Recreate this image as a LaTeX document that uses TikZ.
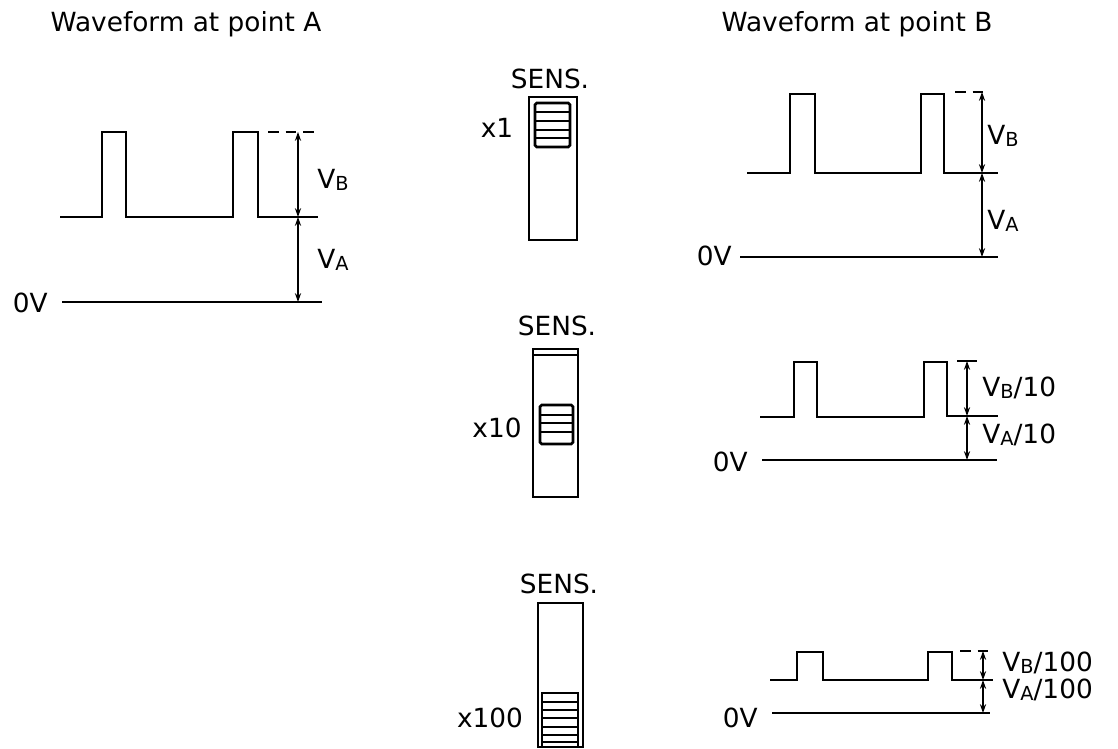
\documentclass[tikz,border=0pt]{standalone}
\usepackage{fontspec}
\setmainfont{DejaVu Sans}
\usetikzlibrary{arrows.meta}
\newcommand{\vsub}[1]{V\raisebox{-0.15ex}{\fontsize{11}{11}\selectfont #1}}
\tikzset{
  wave/.style={line width=1.5pt,line join=miter},
  lvl/.style={line width=1.5pt},
  dimline/.style={line width=0.8pt,{Stealth[length=5pt,width=3.5pt]}-{Stealth[length=5pt,width=3.5pt]}},
  txt/.style={font=\fontsize{15}{18}\selectfont,inner sep=0pt},
  swbox/.style={line width=1.5pt},
  stripe/.style={line width=1.1pt}
}

\begin{document}
\begin{tikzpicture}[x=0.02cm,y=-0.02cm]
  \useasboundingbox (0,0) rectangle (1118,749);
  % titles
  \node[txt] (titleA) at (186,24) {Waveform at point A};
  \node[txt] (titleB) at (857,24) {Waveform at point B};

  % waveform at point A
  \draw[wave] (60,217) -| (102,132) -| (126,217) -| (233,132) -| (258,217) -- (318,217);
  \draw[lvl,dash pattern=on 6pt off 4pt] (268,132) -- (320,132);
  \draw[lvl] (62,302) -- (322,302);
  \node[txt,anchor=east] (zeroA) at (48,303) {0V};
  \coordinate (a0) at (298,132); \coordinate (a1) at (298,217); \coordinate (a2) at (298,302);
  \draw[dimline] (a0) -- (a1); \draw[dimline] (a1) -- (a2);
  \node[txt,anchor=west] (vbA) at (317,180) {\vsub{B}};
  \node[txt,anchor=west] (vaA) at (317,260) {\vsub{A}};

  % SENS. x1
  \node[txt] (sensI) at (550,79) {SENS.};
  \node[txt] (xI) at (497,128) {x1};
  \draw[swbox] (529,97) rectangle (577,240);
  \draw[swbox,rounded corners=1pt] (535,103) rectangle (570,147);
  \foreach \y in {112,121,130,138} \draw[stripe] (535,\y) -- (570,\y);

  % SENS. x10
  \node[txt] (sensX) at (557,326) {SENS.};
  \node[txt] (xX) at (497,428) {x10};
  \draw[swbox] (533,349) rectangle (578,497);
  \draw[stripe] (533,355) -- (578,355);
  \draw[swbox,rounded corners=1pt] (540,405) rectangle (573,444);
  \foreach \y in {415,423,432} \draw[stripe] (540,\y) -- (573,\y);

  % SENS. x100
  \node[txt] (sensC) at (559,584) {SENS.};
  \node[txt] (xC) at (490,718) {x100};
  \draw[swbox] (538,603) rectangle (583,747);
  \draw[swbox] (542,693) rectangle (578,747);
  \foreach \y in {702,710,718,727,735,742} \draw[stripe] (542,\y) -- (578,\y);

  % waveform at point B, x1
  \draw[wave] (747,173) -| (790,94) -| (815,173) -| (921,94) -| (944,173) -- (998,173);
  \draw[lvl,dash pattern=on 6pt off 4pt] (955,92) -- (990,92);
  \draw[lvl] (740,257) -- (998,257);
  \node[txt,anchor=east] (zeroB) at (732,256) {0V};
  \coordinate (b0) at (982,92); \coordinate (b1) at (982,173); \coordinate (b2) at (982,257);
  \draw[dimline] (b0) -- (b1); \draw[dimline] (b1) -- (b2);
  \node[txt,anchor=west] (vbB) at (987,136) {\vsub{B}};
  \node[txt,anchor=west] (vaB) at (987,221) {\vsub{A}};

  % waveform at point B, x10
  \draw[wave] (760,417) -| (794,362) -| (817,417) -| (924,362) -| (947,416) -- (998,416);
  \draw[stripe] (957,361) -- (977,361);
  \draw[lvl] (762,460) -- (997,460);
  \node[txt,anchor=east] (zeroX) at (748,462) {0V};
  \coordinate (c0) at (967,361); \coordinate (c1) at (967,416); \coordinate (c2) at (967,460);
  \draw[dimline] (c0) -- (c1); \draw[dimline] (c1) -- (c2);
  \node[txt,anchor=west] (vbX) at (982,388) {\vsub{B}/10};
  \node[txt,anchor=west] (vaX) at (982,435) {\vsub{A}/10};

  % waveform at point B, x100
  \draw[wave] (770,680) -| (797,652) -| (823,680) -| (928,652) -| (952,680) -- (993,680);
  \draw[lvl,dash pattern=on 6pt off 4pt] (960,651) -- (995,651);
  \draw[lvl] (772,713) -- (990,713);
  \node[txt,anchor=east] (zeroC) at (758,718) {0V};
  \coordinate (d0) at (983,651); \coordinate (d1) at (983,680); \coordinate (d2) at (983,713);
  \draw[dimline] (d0) -- (d1); \draw[dimline] (d1) -- (d2);
  \node[txt,anchor=west] (vbC) at (1002,663) {\vsub{B}/100};
  \node[txt,anchor=west] (vaC) at (1002,690) {\vsub{A}/100};
\end{tikzpicture}
\end{document}
